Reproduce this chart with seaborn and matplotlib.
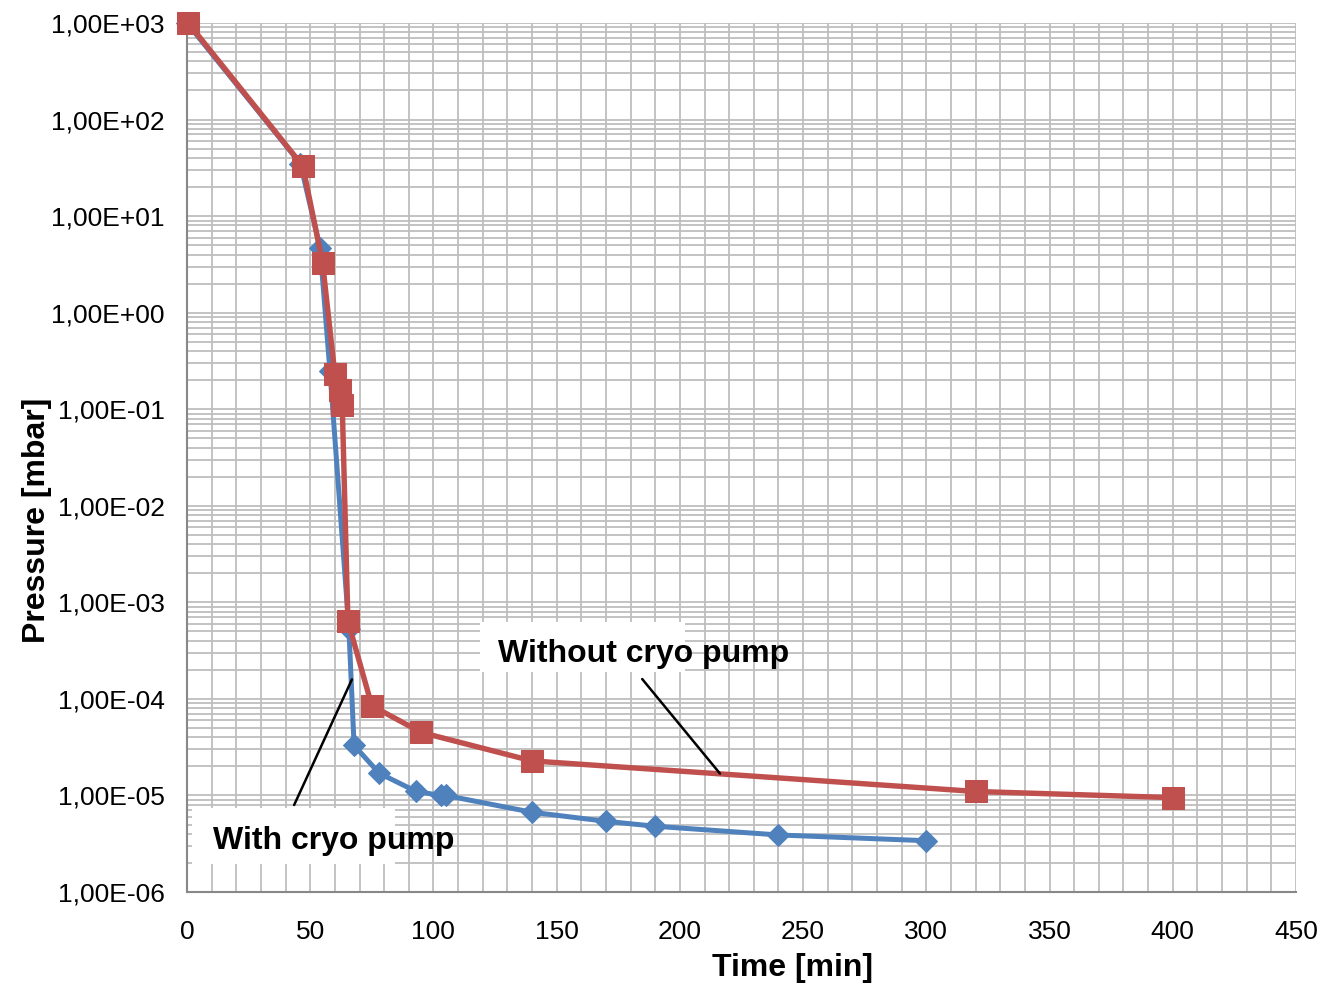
import numpy as np
import pandas as pd
import matplotlib
matplotlib.use("Agg")
import matplotlib.pyplot as plt
import matplotlib.ticker as mticker
from matplotlib.patches import Rectangle
import seaborn as sns

# ---- data ----
t_with = [0, 46, 54, 58, 65.7, 67.8, 78, 93, 103, 105, 140, 170, 190, 240, 300]
p_with = [1000, 35, 4.7, 0.25, 5.3e-4, 3.3e-5, 1.7e-5, 1.1e-5, 1.0e-5, 1.0e-5,
          6.7e-6, 5.4e-6, 4.8e-6, 3.9e-6, 3.4e-6]

t_without = [0.5, 47, 55, 60, 62, 63, 65.3, 75, 95, 140, 320, 400]
p_without = [1000, 33, 3.3, 0.23, 0.16, 0.11, 6.4e-4, 8.5e-5, 4.5e-5, 2.28e-5,
             1.1e-5, 9.5e-6]

y_decades = [1e-6, 1e-5, 1e-4, 1e-3, 1e-2, 1e-1, 1e0, 1e1, 1e2, 1e3]

label_with = "With cryo pump"
label_without = "Without cryo pump"

BLUE = "#4F81BD"
RED = "#C0504D"
GRID = "#BEBEBE"

sns.set_style("white")
plt.rcParams['font.family'] = ['Liberation Sans', 'DejaVu Sans']
plt.rcParams['text.color'] = 'black'
plt.rcParams['axes.labelcolor'] = 'black'
plt.rcParams['xtick.color'] = 'black'
plt.rcParams['ytick.color'] = 'black'

fig = plt.figure(figsize=(13.3, 9.86), dpi=100)
ax = fig.add_axes([0.1406, 0.0953, 0.8338, 0.8814])

df_with = pd.DataFrame({'t': t_with, 'p': p_with})
df_without = pd.DataFrame({'t': t_without, 'p': p_without})

sns.lineplot(data=df_with, x='t', y='p', ax=ax, color=BLUE, linewidth=3.6,
             marker='D', markersize=11.5, markeredgecolor=BLUE,
             sort=False, estimator=None, zorder=3, clip_on=False)
sns.lineplot(data=df_without, x='t', y='p', ax=ax, color=RED, linewidth=3.9,
             marker='s', markersize=16, markeredgecolor=RED,
             sort=False, estimator=None, zorder=4, clip_on=False)

ax.set_yscale('log')
ax.set_xlim(0, 450)
ax.set_ylim(1e-6, 1e3)

ax.xaxis.set_major_locator(mticker.MultipleLocator(50))
ax.xaxis.set_minor_locator(mticker.MultipleLocator(10))
ax.yaxis.set_major_locator(mticker.FixedLocator(y_decades))
ax.yaxis.set_minor_locator(mticker.LogLocator(base=10, subs=np.arange(2, 10), numticks=20))
ax.yaxis.set_minor_formatter(mticker.NullFormatter())
ax.yaxis.set_major_formatter(mticker.FuncFormatter(lambda v, _: f"{v:.2E}".replace('.', ',')))

ax.grid(True, which='both', color=GRID, linewidth=1.3, zorder=0)
ax.set_axisbelow(True)

for s in ['top', 'right']:
    ax.spines[s].set_visible(False)
for s in ['left', 'bottom']:
    ax.spines[s].set_color('#888888')
    ax.spines[s].set_linewidth(1.5)

ax.tick_params(axis='both', which='major', direction='out', length=7, width=1.3,
               color='#888888', labelsize=19, pad=9)
ax.tick_params(axis='x', which='major', pad=13)
ax.tick_params(axis='both', which='minor', length=0)

ax.set_xlabel("Time [min]", fontsize=23, fontweight='bold')
ax.set_ylabel("Pressure [mbar]", fontsize=23, fontweight='bold')
ax.xaxis.set_label_coords(0.546, -0.07)
ax.yaxis.set_label_coords(-0.122, 0.428)

# annotation boxes (white patches hiding the grid)
ax.add_patch(Rectangle((0.264, 0.253), 0.185, 0.058, transform=ax.transAxes,
                       facecolor='white', edgecolor='none', zorder=2))
ax.add_patch(Rectangle((0.0045, 0.032), 0.1835, 0.065, transform=ax.transAxes,
                       facecolor='white', edgecolor='none', zorder=2))

ax.text(126, 2.9e-4, label_without, fontsize=23, fontweight='bold',
        va='center', ha='left', zorder=6)
ax.text(10.5, 3.35e-6, label_with, fontsize=23, fontweight='bold',
        va='center', ha='left', zorder=6)

ax.annotate('', xy=(217, 1.6e-5), xytext=(184, 1.69e-4),
            arrowprops=dict(arrowstyle='-', color='black', lw=1.8), zorder=5)
ax.annotate('', xy=(67.4, 1.69e-4), xytext=(43, 7.5e-6),
            arrowprops=dict(arrowstyle='-', color='black', lw=1.8), zorder=5)

fig.savefig("out.png", dpi=100)
